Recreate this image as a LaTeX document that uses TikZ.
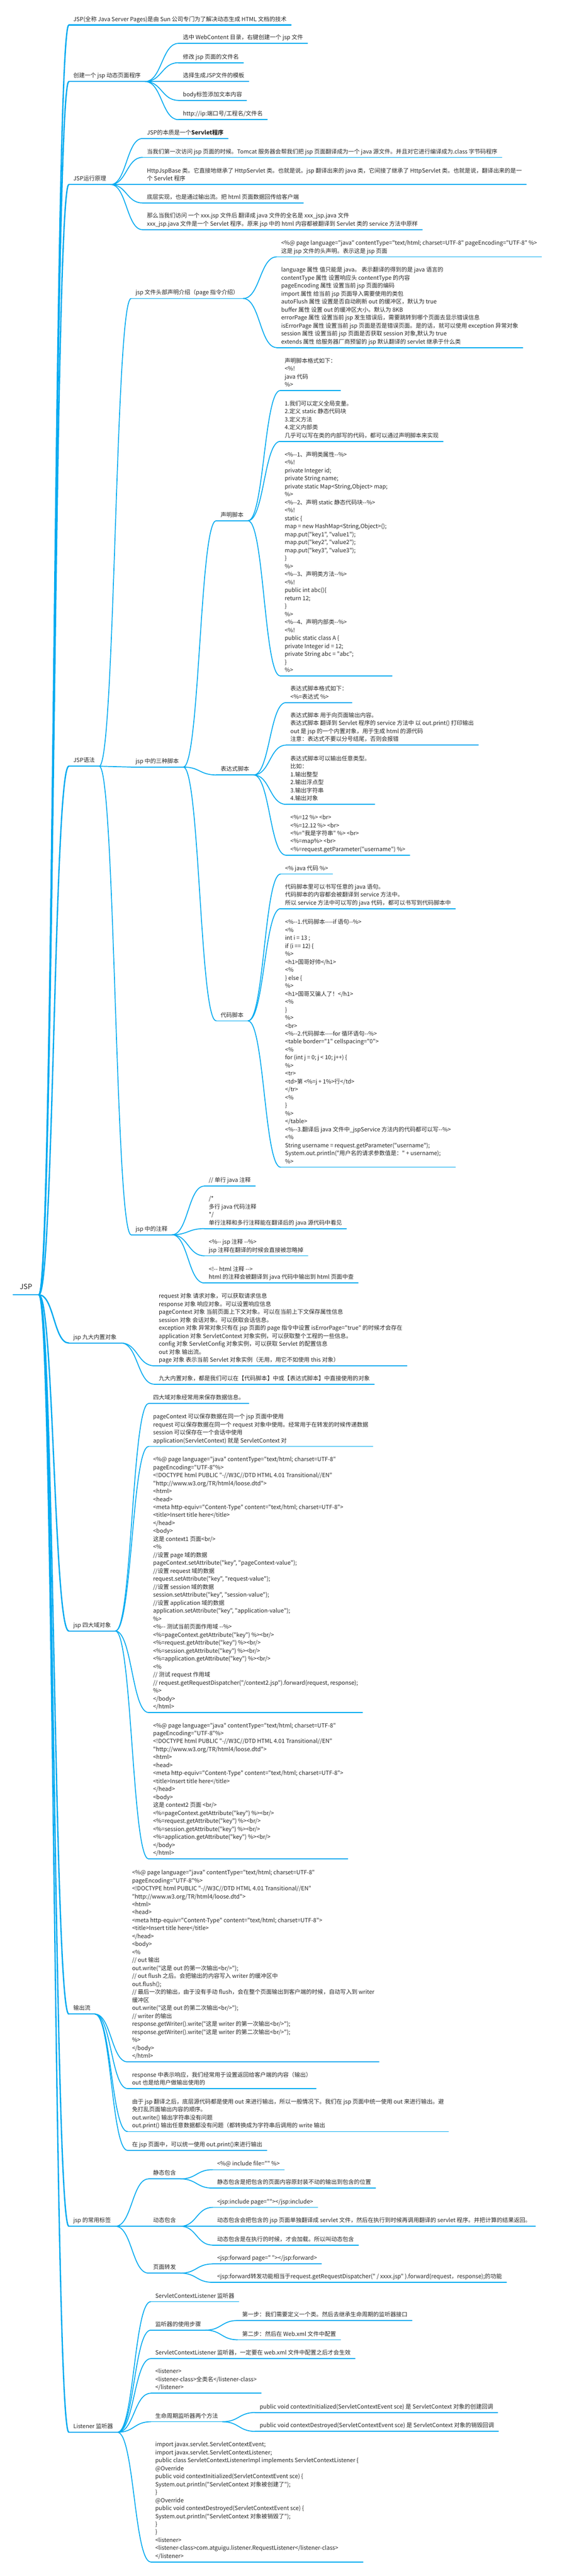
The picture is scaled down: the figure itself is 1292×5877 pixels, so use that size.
\documentclass[tikz,border=0pt]{standalone}
\usepackage{fontspec}
\usepackage{tikz}
\usetikzlibrary{calc}
\newfontfamily\mapfont{Noto Sans CJK SC}
\definecolor{lineblue}{RGB}{0,170,240}
\definecolor{textgray}{RGB}{40,40,40}

\begin{document}
\begin{tikzpicture}[
        x=1pt, y=-1pt,
        topic/.style={anchor=south west, inner xsep=10pt, inner ysep=4.5pt, align=left,
            text=textgray, font=\mapfont\fontsize{13}{18.2}\selectfont,
            execute at end node={\rule[-4pt]{0pt}{4pt}}},
        rootnode/.style={topic, inner xsep=15pt, inner ysep=8pt, font=\mapfont\fontsize{16}{20}\selectfont},
        trunkline/.style={draw=lineblue, line width=3pt, line cap=round},
        edgeline/.style={draw=lineblue, line width=2pt, line cap=round},
        conn/.style={to path={.. controls ($(\tikztostart)!0.5!(\tikztotarget |- \tikztostart)$)
            and ($(\tikztotarget)!0.5!(\tikztostart |- \tikztotarget)$) .. (\tikztotarget)}}
    ]
        \fill[white] (0,0) rectangle (1292,5877);
        \useasboundingbox (0,0) rectangle (1292,5877);

        % Root
        \node[rootnode] (jsp) at (30,2954) {JSP};

        % First level
        \node[topic] (intro) at (157,57) {JSP(全称 Java Server Pages)是由 Sun 公司专门为了解决动态生成 HTML 文档的技术};
        \node[topic] (create) at (157,186) {创建一个 jsp 动态页面程序};
        \node[topic] (principle) at (157,421) {JSP运行原理};
        \node[topic] (syntax) at (157,1748) {JSP语法};
        \node[topic] (builtin) at (157,3064) {jsp 九大内置对象};
        \node[topic] (domain) at (157,3721) {jsp 四大域对象};
        \node[topic] (output) at (157,4595) {输出流};
        \node[topic] (tags) at (157,5079) {jsp 的常用标签};
        \node[topic] (listener) at (157,5549) {Listener 监听器};

        % Create a page
        \node[topic] (c1) at (407,99) {选中 WebContent 目录，右键创建一个 jsp 文件};
        \node[topic] (c2) at (407,143) {修改 jsp 页面的文件名};
        \node[topic] (c3) at (407,186) {选择生成JSP文件的模板};
        \node[topic] (c4) at (407,229) {body标签添加文本内容};
        \node[topic] (c5) at (407,273) {http://ip:端口号/工程名/文件名};

        % Principle
        \node[topic] (p1) at (325,316) {JSP的本质是一个{\bfseries Servlet程序}};
        \node[topic] (p2) at (325,359) {当我们第一次访问 jsp 页面的时候。Tomcat 服务器会帮我们把 jsp 页面翻译成为一个 java 源文件。并且对它进行编译成为.class 字节码程序};
        \node[topic] (p3) at (325,421) {HttpJspBase 类。它直接地继承了 HttpServlet 类。也就是说。jsp 翻译出来的 java 类，它间接了继承了 HttpServlet 类。也就是说，翻译出来的是一\\个 Servlet 程序};
        \node[topic] (p4) at (325,463) {底层实现，也是通过输出流。把 html 页面数据回传给客户端};
        \node[topic] (p5) at (325,524) {那么当我们访问 一个 xxx.jsp 文件后 翻译成 java 文件的全名是 xxx\_jsp.java 文件\\xxx\_jsp.java 文件是一个 Servlet 程序。原来 jsp 中的 html 内容都被翻译到 Servlet 类的 service 方法中原样};

        % Syntax
        \node[topic] (header) at (299,681) {jsp 文件头部声明介绍（page 指令介绍）};
        \node[topic] (scripts) at (299,1750) {jsp 中的三种脚本};
        \node[topic] (comments) at (299,2817) {jsp 中的注释};

        \node[topic] (h1) at (631,586) {<\%@ page language="java" contentType="text/html; charset=UTF-8" pageEncoding="UTF-8" \%>\\这是 jsp 文件的头声明。表示这是 jsp 页面};
        \node[topic] (h2) at (631,793) {language 属性 值只能是 java。 表示翻译的得到的是 java 语言的\\contentType 属性 设置响应头 contentType 的内容\\pageEncoding 属性 设置当前 jsp 页面的编码\\import 属性 给当前 jsp 页面导入需要使用的类包\\autoFlush 属性 设置是否自动刷新 out 的缓冲区，默认为 true\\buffer 属性 设置 out 的缓冲区大小。默认为 8KB\\errorPage 属性 设置当前 jsp 发生错误后，需要跳转到哪个页面去显示错误信息\\isErrorPage 属性 设置当前 jsp 页面是否是错误页面。是的话，就可以使用 exception 异常对象\\session 属性 设置当前 jsp 页面是否获取 session 对象,默认为 true\\extends 属性 给服务器厂商预留的 jsp 默认翻译的 servlet 继承于什么类};

        \node[topic] (decl) at (493,1188) {声明脚本};
        \node[topic] (expr) at (493,1768) {表达式脚本};
        \node[topic] (code) at (493,2329) {代码脚本};

        \node[topic] (d1) at (639,891) {声明脚本格式如下：\\<\%!\\java 代码\\\%>};
        \node[topic] (d2) at (639,1007) {1.我们可以定义全局变量。\\2.定义 static 静态代码块\\3.定义方法\\4.定义内部类\\几乎可以写在类的内部写的代码，都可以通过声明脚本来实现};
        \node[topic] (d3) at (639,1542) {<\%--1、声明类属性--\%>\\<\%!\\private Integer id;\\private String name;\\private static Map<String,Object> map;\\\%>\\<\%--2、声明 static 静态代码块--\%>\\<\%!\\static \{\\map = new HashMap<String,Object>();\\map.put("key1", "value1");\\map.put("key2", "value2");\\map.put("key3", "value3");\\\}\\\%>\\<\%--3、声明类方法--\%>\\<\%!\\public int abc()\{\\return 12;\\\}\\\%>\\<\%--4、声明内部类--\%>\\<\%!\\public static class A \{\\private Integer id = 12;\\private String abc = "abc";\\\}\\\%>};

        \node[topic] (e1) at (652,1603) {表达式脚本格式如下：\\<\%=表达式 \%>};
        \node[topic] (e2) at (652,1700) {表达式脚本 用于向页面输出内容。\\表达式脚本 翻译到 Servlet 程序的 service 方法中 以 out.print() 打印输出\\out 是 jsp 的一个内置对象，用于生成 html 的源代码\\注意：表达式不要以分号结尾，否则会报错};
        \node[topic] (e3) at (652,1835) {表达式脚本可以输出任意类型。\\比如：\\1.输出整型\\2.输出浮点型\\3.输出字符串\\4.输出对象};
        \node[topic] (e4) at (652,1951) {<\%=12 \%> <br>\\<\%=12.12 \%> <br>\\<\%="我是字符串" \%> <br>\\<\%=map\%> <br>\\<\%=request.getParameter("username") \%>};

        \node[topic] (k1) at (640,1994) {<\% java 代码 \%>};
        \node[topic] (k2) at (640,2073) {代码脚本里可以书写任意的 java 语句。\\代码脚本的内容都会被翻译到 service 方法中。\\所以 service 方法中可以写的 java 代码，都可以书写到代码脚本中};
        \node[topic] (k3) at (640,2663) {<\%--1.代码脚本----if 语句--\%>\\<\%\\int i = 13 ;\\if (i == 12) \{\\\%>\\<h1>国哥好帅</h1>\\<\%\\\} else \{\\\%>\\<h1>国哥又骗人了！</h1>\\<\%\\\}\\\%>\\<br>\\<\%--2.代码脚本----for 循环语句--\%>\\<table border="1" cellspacing="0">\\<\%\\for (int j = 0; j < 10; j++) \{\\\%>\\<tr>\\<td>第 <\%=j + 1\%>行</td>\\</tr>\\<\%\\\}\\\%>\\</table>\\<\%--3.翻译后 java 文件中\_jspService 方法内的代码都可以写--\%>\\<\%\\String username = request.getParameter("username");\\System.out.println("用户名的请求参数值是：" + username);\\\%>};

        \node[topic] (m1) at (466,2706) {// 单行 java 注释};
        \node[topic] (m2) at (466,2803) {/*\\多行 java 代码注释\\{}*/\\单行注释和多行注释能在翻译后的 java 源代码中看见};
        \node[topic] (m3) at (466,2865) {<\%-- jsp 注释 --\%>\\jsp 注释在翻译的时候会直接被忽略掉};
        \node[topic] (m4) at (466,2927) {<!-- html 注释 -->\\html 的注释会被翻译到 java 代码中输出到 html 页面中查};

        % Built-in objects
        \node[topic] (b1) at (352,3116) {request 对象 请求对象，可以获取请求信息\\response 对象 响应对象。可以设置响应信息\\pageContext 对象 当前页面上下文对象。可以在当前上下文保存属性信息\\session 对象 会话对象。可以获取会话信息。\\exception 对象 异常对象只有在 jsp 页面的 page 指令中设置 isErrorPage="true" 的时候才会存在\\application 对象 ServletContext 对象实例，可以获取整个工程的一些信息。\\config 对象 ServletConfig 对象实例，可以获取 Servlet 的配置信息\\out 对象 输出流。\\page 对象 表示当前 Servlet 对象实例（无用，用它不如使用 this 对象）};
        \node[topic] (b2) at (352,3158) {九大内置对象，都是我们可以在【代码脚本】中或【表达式脚本】中直接使用的对象};

        % Domain objects
        \node[topic] (f1) at (339,3202) {四大域对象经常用来保存数据信息。};
        \node[topic] (f2) at (339,3300) {pageContext 可以保存数据在同一个 jsp 页面中使用\\request 可以保存数据在同一个 request 对象中使用。经常用于在转发的时候传递数据\\session 可以保存在一个会话中使用\\application(ServletContext) 就是 ServletContext 对};
        \node[topic] (f3) at (339,3907) {<\%@ page language="java" contentType="text/html; charset=UTF-8"\\pageEncoding="UTF-8"\%>\\<!DOCTYPE html PUBLIC "-//W3C//DTD HTML 4.01 Transitional//EN"\\"http://www.w3.org/TR/html4/loose.dtd">\\<html>\\<head>\\<meta http-equiv="Content-Type" content="text/html; charset=UTF-8">\\<title>Insert title here</title>\\</head>\\<body>\\这是 context1 页面<br/>\\<\%\\//设置 page 域的数据\\pageContext.setAttribute("key", "pageContext-value");\\//设置 request 域的数据\\request.setAttribute("key", "request-value");\\//设置 session 域的数据\\session.setAttribute("key", "session-value");\\//设置 application 域的数据\\application.setAttribute("key", "application-value");\\\%>\\<\%-- 测试当前页面作用域 --\%>\\<\%=pageContext.getAttribute("key") \%><br/>\\<\%=request.getAttribute("key") \%><br/>\\<\%=session.getAttribute("key") \%><br/>\\<\%=application.getAttribute("key") \%><br/>\\<\%\\// 测试 request 作用域\\// request.getRequestDispatcher("/context2.jsp").forward(request, response);\\\%>\\</body>\\</html>};
        \node[topic] (f4) at (339,4241) {<\%@ page language="java" contentType="text/html; charset=UTF-8"\\pageEncoding="UTF-8"\%>\\<!DOCTYPE html PUBLIC "-//W3C//DTD HTML 4.01 Transitional//EN"\\"http://www.w3.org/TR/html4/loose.dtd">\\<html>\\<head>\\<meta http-equiv="Content-Type" content="text/html; charset=UTF-8">\\<title>Insert title here</title>\\</head>\\<body>\\这是 context2 页面 <br/>\\<\%=pageContext.getAttribute("key") \%><br/>\\<\%=request.getAttribute("key") \%><br/>\\<\%=session.getAttribute("key") \%><br/>\\<\%=application.getAttribute("key") \%><br/>\\</body>\\</html>};

        % Output stream
        \node[topic] (o1) at (291,4704) {<\%@ page language="java" contentType="text/html; charset=UTF-8"\\pageEncoding="UTF-8"\%>\\<!DOCTYPE html PUBLIC "-//W3C//DTD HTML 4.01 Transitional//EN"\\"http://www.w3.org/TR/html4/loose.dtd">\\<html>\\<head>\\<meta http-equiv="Content-Type" content="text/html; charset=UTF-8">\\<title>Insert title here</title>\\</head>\\<body>\\<\%\\// out 输出\\out.write("这是 out 的第一次输出<br/>");\\// out flush 之后。会把输出的内容写入 writer 的缓冲区中\\out.flush();\\// 最后一次的输出，由于没有手动 flush，会在整个页面输出到客户端的时候，自动写入到 writer\\缓冲区\\out.write("这是 out 的第二次输出<br/>");\\// writer 的输出\\response.getWriter().write("这是 writer 的第一次输出<br/>");\\response.getWriter().write("这是 writer 的第二次输出<br/>");\\\%>\\</body>\\</html>};
        \node[topic] (o2) at (291,4765) {response 中表示响应，我们经常用于设置返回给客户端的内容（输出）\\out 也是给用户做输出使用的};
        \node[topic] (o3) at (291,4863) {由于 jsp 翻译之后，底层源代码都是使用 out 来进行输出，所以一般情况下。我们在 jsp 页面中统一使用 out 来进行输出。避\\免打乱页面输出内容的顺序。\\out.write() 输出字符串没有问题\\out.print() 输出任意数据都没有问题（都转换成为字符串后调用的 write 输出};
        \node[topic] (o4) at (291,4906) {在 jsp 页面中，可以统一使用 out.print()来进行输出};

        % Common tags
        \node[topic] (stat) at (339,4971) {静态包含};
        \node[topic] (dyn) at (339,5079) {动态包含};
        \node[topic] (fwd) at (339,5186) {页面转发};
        \node[topic] (s1) at (485,4950) {<\%@ include file="" \%>};
        \node[topic] (s2) at (485,4992) {静态包含是把包含的页面内容原封装不动的输出到包含的位置};
        \node[topic] (y1) at (485,5036) {<jsp:include page=""></jsp:include>};
        \node[topic] (y2) at (485,5079) {动态包含会把包含的 jsp 页面单独翻译成 servlet 文件，然后在执行到时候再调用翻译的 servlet 程序。并把计算的结果返回。};
        \node[topic] (y3) at (485,5122) {动态包含是在执行的时候，才会加载。所以叫动态包含};
        \node[topic] (w1) at (485,5165) {<jsp:forward page=" "></jsp:forward>};
        \node[topic] (w2) at (485,5207) {<jsp:forward转发功能相当于request.getRequestDispatcher(" / xxxx.jsp" ).forward(request，response);的功能};

        % Listener
        \node[topic] (l1) at (344,5251) {ServletContextListener 监听器};
        \node[topic] (l2) at (344,5316) {监听器的使用步骤};
        \node[topic] (l3) at (344,5381) {ServletContextListener 监听器，一定要在 web.xml 文件中配置之后才会生效};
        \node[topic] (l4) at (344,5460) {<listener>\\<listener-class>全类名</listener-class>\\</listener>};
        \node[topic] (l5) at (344,5525) {生命周期监听器两个方法};
        \node[topic] (l6) at (344,5845) {import javax.servlet.ServletContextEvent;\\import javax.servlet.ServletContextListener;\\public class ServletContextListenerImpl implements ServletContextListener \{\\@Override\\public void contextInitialized(ServletContextEvent sce) \{\\System.out.println("ServletContext 对象被创建了");\\\}\\@Override\\public void contextDestroyed(ServletContextEvent sce) \{\\System.out.println("ServletContext 对象被销毁了");\\\}\\\}\\<listener>\\<listener-class>com.atguigu.listener.RequestListener</listener-class>\\</listener>};
        \node[topic] (l2a) at (542,5294) {第一步：我们需要定义一个类。然后去继承生命周期的监听器接口};
        \node[topic] (l2b) at (542,5338) {第二步：然后在 Web.xml 文件中配置};
        \node[topic] (l5a) at (582,5504) {public void contextInitialized(ServletContextEvent sce) 是 ServletContext 对象的创建回调};
        \node[topic] (l5b) at (582,5547) {public void contextDestroyed(ServletContextEvent sce) 是 ServletContext 对象的销毁回调};

        % Branches from the root
        \foreach \n in {intro,create,principle,syntax,builtin,domain,output,tags,listener}
            \draw[trunkline] (jsp.south east) to[conn] (\n.south west);

        % Branches between topics
        \foreach \a/\b in {create/c1,create/c2,create/c3,create/c4,create/c5,
                principle/p1,principle/p2,principle/p3,principle/p4,principle/p5,
                syntax/header,syntax/scripts,syntax/comments,header/h1,header/h2,
                scripts/decl,scripts/expr,scripts/code,decl/d1,decl/d2,decl/d3,
                expr/e1,expr/e2,expr/e3,expr/e4,code/k1,code/k2,code/k3,
                comments/m1,comments/m2,comments/m3,comments/m4,builtin/b1,builtin/b2,
                domain/f1,domain/f2,domain/f3,domain/f4,output/o1,output/o2,output/o3,output/o4,
                tags/stat,tags/dyn,tags/fwd,stat/s1,stat/s2,dyn/y1,dyn/y2,dyn/y3,fwd/w1,fwd/w2,
                listener/l1,listener/l2,listener/l3,listener/l4,listener/l5,listener/l6,
                l2/l2a,l2/l2b,l5/l5a,l5/l5b}
            \draw[edgeline] (\a.south east) to[conn] (\b.south west);

        % Underlines
        \draw[trunkline] (jsp.south west) -- (jsp.south east);
        \foreach \n in {intro,create,principle,syntax,builtin,domain,output,tags,listener}
            \draw[edgeline, line width=2.5pt] (\n.south west) -- (\n.south east);
        \foreach \n in {c1,c2,c3,c4,c5,p1,p2,p3,p4,p5,header,scripts,comments,h1,h2,
                decl,expr,code,d1,d2,d3,e1,e2,e3,e4,k1,k2,k3,m1,m2,m3,m4,b1,b2,
                f1,f2,f3,f4,o1,o2,o3,o4,stat,dyn,fwd,s1,s2,y1,y2,y3,w1,w2,
                l1,l2,l3,l4,l5,l6,l2a,l2b,l5a,l5b}
            \draw[edgeline] (\n.south west) -- (\n.south east);
    \end{tikzpicture}
\end{document}
